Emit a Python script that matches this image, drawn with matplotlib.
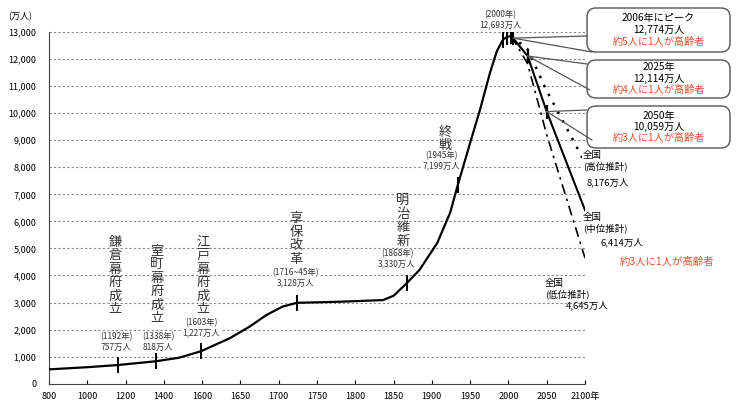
import numpy as np
import matplotlib
matplotlib.use("Agg")
import matplotlib.pyplot as plt
from matplotlib.patches import FancyBboxPatch, ConnectionPatch
from matplotlib.transforms import IdentityTransform

plt.rcParams['font.family'] = ['Noto Sans CJK JP', 'DejaVu Sans']

# %% data (万人)
hist_years = [800, 1000, 1160, 1359, 1480, 1594, 1636, 1662, 1684, 1705, 1724,
              1780, 1836, 1850, 1867, 1884, 1907, 1924, 1934, 1950, 1963, 1976,
              1985, 1993, 1998, 2004]
hist_pop = [530, 610, 690, 830, 960, 1200, 1680, 2110, 2540, 2850, 2990,
            3030, 3090, 3250, 3710, 4210, 5200, 6330, 7360, 8900, 10140, 11500,
            12300, 12720, 12820, 12850]

mark_years = [1160, 1359, 1594, 1724, 1867, 1934, 1993, 1998, 2004]
mark_pop = [690, 830, 1200, 2990, 3710, 7360, 12720, 12820, 12850]

proj_years = [2004, 2006, 2025, 2050, 2100]
proj_mid = [12850, 12774, 12114, 10059, 6414]
proj_high = [12850, 12810, 12360, 10825, 8176]
proj_low = [12850, 12740, 11830, 9203, 4645]
proj_mark_years = [2006, 2025, 2050]
proj_mark_pop = [12774, 12114, 10059]

tick_years = [800, 1000, 1200, 1400, 1600, 1650, 1700, 1750, 1800, 1850,
              1900, 1950, 2000, 2050, 2100]
tick_labels = [str(y) for y in tick_years[:-1]] + ['2100年']
ytick_vals = list(range(0, 14000, 1000))

event_names = ['鎌倉幕府成立', '室町幕府成立', '江戸幕府成立', '享保改革', '明治維新', '終戦']
event_notes = ['(1192年)\n757万人', '(1338年)\n818万人', '(1603年)\n1,227万人',
               '(1716~45年)\n3,128万人', '(1868年)\n3,330万人', '(1945年)\n7,199万人']

box_texts = [('2006年にピーク', '12,774万人', '約5人に1人が高齢者'),
             ('2025年', '12,114万人', '約4人に1人が高齢者'),
             ('2050年', '10,059万人', '約3人に1人が高齢者')]

W, H = 736, 412
RED = '#e8502a'


# %% non linear time axis: 200 yr steps before 1600, 50 yr steps after
def fwd(y):
    y = np.asarray(y, float)
    return np.where(y < 1600, (y - 800) / 200., 4 + (y - 1600) / 50.)


def inv(i):
    i = np.asarray(i, float)
    return np.where(i < 4, 800 + 200. * i, 1600 + 50. * (i - 4))


fig = plt.figure(figsize=(W / 100, H / 100), dpi=100)
ax = fig.add_axes([49 / W, (H - 383.7) / H, 536 / W, 351.7 / H])
ax.set_xscale('function', functions=(fwd, inv))
ax.set_xlim(800, 2100)
ax.set_ylim(0, 13000)

ax.set_yticks(ytick_vals)
ax.set_yticklabels(['{:,}'.format(v) for v in ytick_vals], fontsize=6.5)
ax.set_xticks(tick_years)
ax.set_xticklabels(tick_labels, fontsize=6.5)
ax.tick_params(axis='y', length=0, pad=9)
ax.tick_params(axis='x', direction='in', length=3, pad=6)
for s in ['top', 'right']:
    ax.spines[s].set_visible(False)
for s in ['left', 'bottom']:
    ax.spines[s].set_color('#444')
for v in ytick_vals[1:]:
    ax.axhline(v, color='#888', ls=(0, (2, 2)), lw=0.8, zorder=0)

# curves
ax.plot(hist_years, hist_pop, color='black', lw=1.6, zorder=3)
ax.plot(proj_years, proj_mid, color='black', lw=1.5, zorder=3)
ax.plot(proj_years, proj_high, color='black', lw=1.8, ls=(0, (1, 3)), zorder=3)
ax.plot(proj_years, proj_low, color='black', lw=1.2, ls=(0, (6, 3, 1.5, 3)), zorder=3)
ax.plot(mark_years, mark_pop, ls='none', marker='|', ms=12, mew=1.4, color='black', zorder=4)
ax.plot(proj_mark_years, proj_mark_pop, ls='none', marker='|', ms=10, mew=1.6, color='black', zorder=4)


def ftext(px, py, s, **kw):
    kw.setdefault('ha', 'center')
    kw.setdefault('va', 'center')
    return fig.text(px / W, 1 - py / H, s, **kw)


ftext(20, 17, '(万人)', fontsize=6.5)

# event labels (vertical)
name_pos = [(115, 276), (157, 285), (203, 276), (296, 239), (403, 221), (445, 139)]
note_pos = [(116, 342), (158, 342), (201, 328), (296, 278), (397, 259), (441, 161)]
for name, (px, py) in zip(event_names, name_pos):
    ftext(px, py, '\n'.join(name), fontsize=9.5, color='#333', linespacing=1.05)
for note, (px, py) in zip(event_notes, note_pos):
    ftext(px, py, note, fontsize=6, color='#333', linespacing=1.2,
          bbox=dict(fc='white', ec='none', pad=0.5))
ftext(500, 20, '(2000年)\n12,693万人', fontsize=6, color='#333', linespacing=1.2)

# projection labels
ftext(583, 161, '全国\n(高位推計)', fontsize=6.8, ha='left', linespacing=1.1,
      bbox=dict(fc='white', ec='none', pad=0.5))
ftext(608, 182, '8,176万人', fontsize=6.8)
ftext(583, 223, '全国\n(中位推計)', fontsize=6.8, ha='left', linespacing=1.1,
      bbox=dict(fc='white', ec='none', pad=0.5))
ftext(622, 242, '6,414万人', fontsize=6.8)
ftext(667, 262, '約3人に1人が高齢者', fontsize=7.5, color=RED)
ftext(545, 289, '全国\n(低位推計)', fontsize=6.8, ha='left', linespacing=1.1,
      bbox=dict(fc='white', ec='none', pad=0.5))
ftext(587, 305, '4,645万人', fontsize=6.8)

# call-out boxes
boxes = [(587, 8, 730, 52), (587, 60, 730, 98), (587, 106, 730, 148)]
box_points = [(2006, 12774), (2025, 12114), (2050, 10059)]
tails = [((587, 36), (592, 52)), ((587, 64), (590, 90)), ((587, 110), (592, 140))]
line_dy = [(-12, 0, 12), (-12, 0, 11), (-11, 0, 11)]
for (x0, y0, x1, y1), lines, pt, tl, dy in zip(boxes, box_texts, box_points, tails, line_dy):
    p = FancyBboxPatch((x0, H - y1), x1 - x0, y1 - y0,
                       boxstyle='round,pad=0,rounding_size=9',
                       transform=IdentityTransform(), fc='white', ec='#555', lw=1.0)
    fig.add_artist(p)
    for tp in tl:
        cp = ConnectionPatch(xyA=pt, coordsA=ax.transData, xyB=(tp[0], H - tp[1]),
                             coordsB='figure pixels', color='#555', lw=0.9)
        fig.add_artist(cp)
    cx, cy = (x0 + x1) / 2, (y0 + y1) / 2
    ftext(cx, cy + dy[0], lines[0], fontsize=7.3)
    ftext(cx, cy + dy[1], lines[1], fontsize=7.3)
    ftext(cx, cy + dy[2], lines[2], fontsize=7.3, color=RED)

fig.savefig('out.png', dpi=100)
